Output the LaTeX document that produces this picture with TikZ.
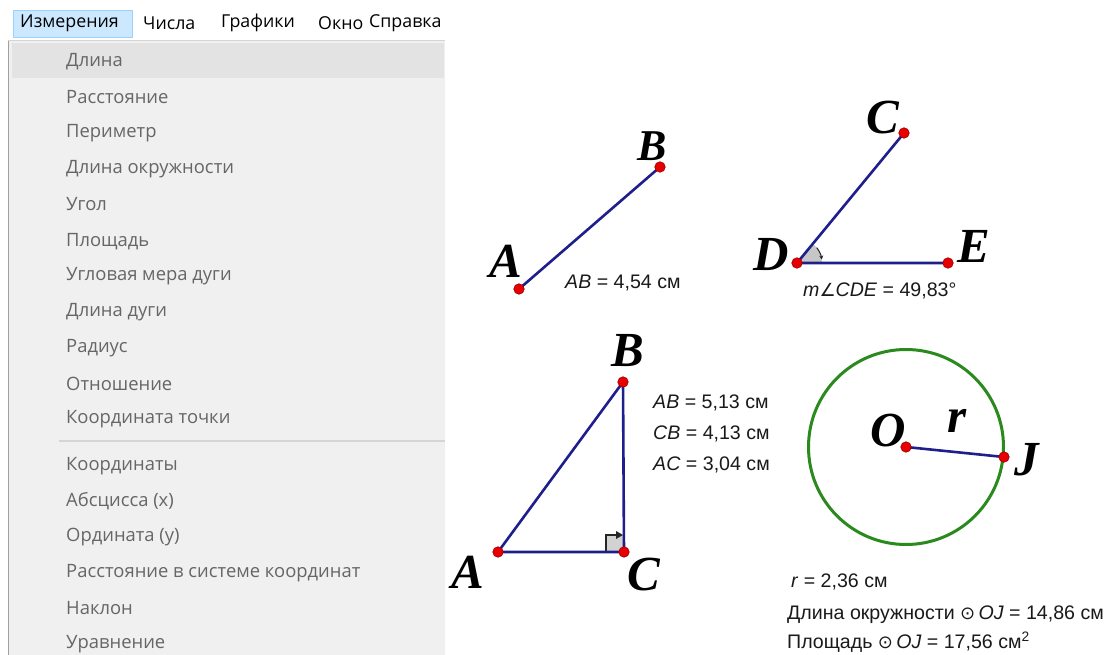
\documentclass[tikz,border=0pt]{standalone}
\usepackage{fontspec}
\setmainfont{Liberation Serif}
\newfontfamily\uifont{Open Sans}
\newfontfamily\arialf{Liberation Sans}
\newfontfamily\dejavuf{DejaVu Sans}
\usetikzlibrary{arrows.meta,calc}
\definecolor{menubg}{HTML}{F0F0F0}
\definecolor{menuhl}{HTML}{E3E3E3}
\definecolor{menutxt}{HTML}{666666}
\definecolor{menusep}{HTML}{D5D5D5}
\definecolor{menuedge}{HTML}{A0A0A0}
\definecolor{barhl}{HTML}{CCE8FF}
\definecolor{barhlb}{HTML}{99D1FF}
\definecolor{segblue}{HTML}{1E1E8C}
\definecolor{ptred}{HTML}{E80000}
\definecolor{ptedge}{HTML}{9A0000}
\definecolor{circgreen}{HTML}{2A8A1E}
\definecolor{meastxt}{HTML}{1A1A1A}
\begin{document}
\begin{tikzpicture}[x=1pt,y=-1pt,
  baritem/.style={anchor=west,inner sep=0pt,font=\uifont\fontsize{17.8}{20}\selectfont,text=black},
  menuitem/.style={anchor=west,inner sep=0pt,font=\uifont\fontsize{18.4}{20}\selectfont,text=menutxt},
  seg/.style={draw=segblue,line width=2.6pt},
  pt/.style={circle,fill=ptred,draw=ptedge,line width=0.6pt,inner sep=0pt,minimum size=10.5pt},
  plabel/.style={inner sep=0pt,font=\fontsize{49}{49}\selectfont\bfseries\itshape},
  meas/.style={anchor=west,inner sep=0pt,text=meastxt,font=\arialf\fontsize{19.6}{21}\selectfont}
]
\useasboundingbox (0,0) rectangle (1106,655);
\clip (0,0) rectangle (1106,655);
\fill[white] (0,0) rectangle (1106,655);
% ---------- menu bar ----------
\draw[barhlb,fill=barhl,line width=0.8pt] (13,10) rectangle (132,37);
\node[baritem] (mb1) at (20,23) {Измерения};
\node[baritem] (mb2) at (143,23) {Числа};
\node[baritem] (mb3) at (221,23) {Графики};
\node[baritem] (mb4) at (318,23) {Окно};
\begin{scope}
\clip (366,0) rectangle (446,40);
\node[baritem] (mb5) at (369,23) {Справка};
\end{scope}
% ---------- drop-down ----------
\fill[menubg] (8,40) rectangle (445,655);
\draw[menuedge,line width=1pt] (8.5,40) -- (8.5,655);
\draw[menusep,line width=1pt] (8,40.5) -- (445,40.5);
\fill[menuhl] (12,43) rectangle (444,78);
\draw[menusep,line width=1.2pt] (59,441) -- (445,441);
\node[menuitem] (i1) at (66,61.5) {Длина};
\node[menuitem] (i2) at (66,97.5) {Расстояние};
\node[menuitem] (i3) at (66,133.5) {Периметр};
\node[menuitem] (i4) at (66,169.5) {Длина окружности};
\node[menuitem] (i5) at (66,204.5) {Угол};
\node[menuitem] (i6) at (66,241.5) {Площадь};
\node[menuitem] (i7) at (66,276.5) {Угловая мера дуги};
\node[menuitem] (i8) at (66,312.5) {Длина дуги};
\node[menuitem] (i9) at (66,348.5) {Радиус};
\node[menuitem] (i10) at (66,383.5) {Отношение};
\node[menuitem] (i11) at (66,419.5) {Координата точки};
\node[menuitem] (i12) at (66,466.5) {Координаты};
\node[menuitem] (i13) at (66,501.5) {Абсцисса (x)};
\node[menuitem] (i14) at (66,537.5) {Ордината (y)};
\node[menuitem] (i15) at (66,573.5) {Расстояние в системе координат};
\node[menuitem] (i16) at (66,608.5) {Наклон};
\node[menuitem] (i17) at (66,644) {Уравнение};
% ---------- figure 1 : segment AB ----------
\coordinate (pA) at (519,289);
\coordinate (pB) at (660,167);
\draw[seg] (pA) -- (pB);
\node[pt] (nA) at (pA) {};
\node[pt] (nB) at (pB) {};
\node[plabel] (lA) at (506,261) {A};
\node[plabel,font=\fontsize{44}{44}\selectfont\bfseries\itshape] (lB) at (652,146) {B};
\node[meas] (t1) at (565,283) {\textit{AB} = 4,54 см};
% ---------- figure 2 : angle CDE ----------
\coordinate (pD) at (797,263);
\coordinate (pE) at (948,263);
\coordinate (pC) at (904,133);
\fill[gray!45] (pD) -- ++(0:25) arc[start angle=0,end angle=-50.5,radius=25] -- cycle;
\draw[seg] (pC) -- (pD) -- (pE);
\draw[gray!30!black,line width=1pt,-{Stealth[length=4pt,width=4pt]}] ($(pD)+(-38:25)$) arc[start angle=-38,end angle=-8,radius=25];
\node[pt] (nC) at (pC) {};
\node[pt] (nD) at (pD) {};
\node[pt] (nE) at (pE) {};
\node[plabel] (lC) at (883,118) {C};
\node[plabel] (lD) at (771,255) {D};
\node[plabel] (lE) at (974,246) {E};
\node[meas] (t2) at (803,291) {\textit{m}{\dejavuf\fontsize{18}{20}\selectfont ∠}\textit{CDE} = 49,83°};
% ---------- figure 3 : right triangle ----------
\coordinate (qA) at (498,552);
\coordinate (qB) at (623,382);
\coordinate (qC) at (624,552);
\fill[gray!35] (606,535) rectangle (624,552);
\draw[gray!30!black,line width=1.2pt] (606,552) -- (606,535) -- (621,535);
\fill[gray!30!black] (623,535) -- (616,531) -- (616,539) -- cycle;
\draw[seg] (qA) -- (qB) -- (qC) -- cycle;
\node[pt] (mA) at (qA) {};
\node[pt] (mB) at (qB) {};
\node[pt] (mC) at (qC) {};
\node[plabel] (kB) at (628,351) {B};
\node[plabel] (kA) at (468,572) {A};
\node[plabel] (kC) at (644,575) {C};
\node[meas] (t3) at (653,403) {\textit{AB} = 5,13 см};
\node[meas] (t4) at (653,434) {\textit{CB} = 4,13 см};
\node[meas] (t5) at (653,465) {\textit{AC} = 3,04 см};
% ---------- figure 4 : circle ----------
\coordinate (pO) at (906,447);
\coordinate (pJ) at (1004,457);
\draw[circgreen,line width=3pt] (pO) circle[radius=97.5];
\draw[seg] (pO) -- (pJ);
\node[pt] (nO) at (pO) {};
\node[pt] (nJ) at (pJ) {};
\node[plabel] (lO) at (888,431) {O};
\node[plabel] (lr) at (957,421) {r};
\node[plabel] (lJ) at (1027,460) {J};
\node[meas] (t6) at (791,582) {\textit{r} = 2,36 см};
\node[meas] (t7) at (787,615) {Длина окружности {\dejavuf\fontsize{18}{20}\selectfont ⊙}\,\textit{OJ} = 14,86 см};
\node[meas] (t8) at (787,642) {Площадь {\dejavuf\fontsize{18}{20}\selectfont ⊙}\,\textit{OJ} = 17,56 см\textsuperscript{2}};
\end{tikzpicture}
\end{document}
